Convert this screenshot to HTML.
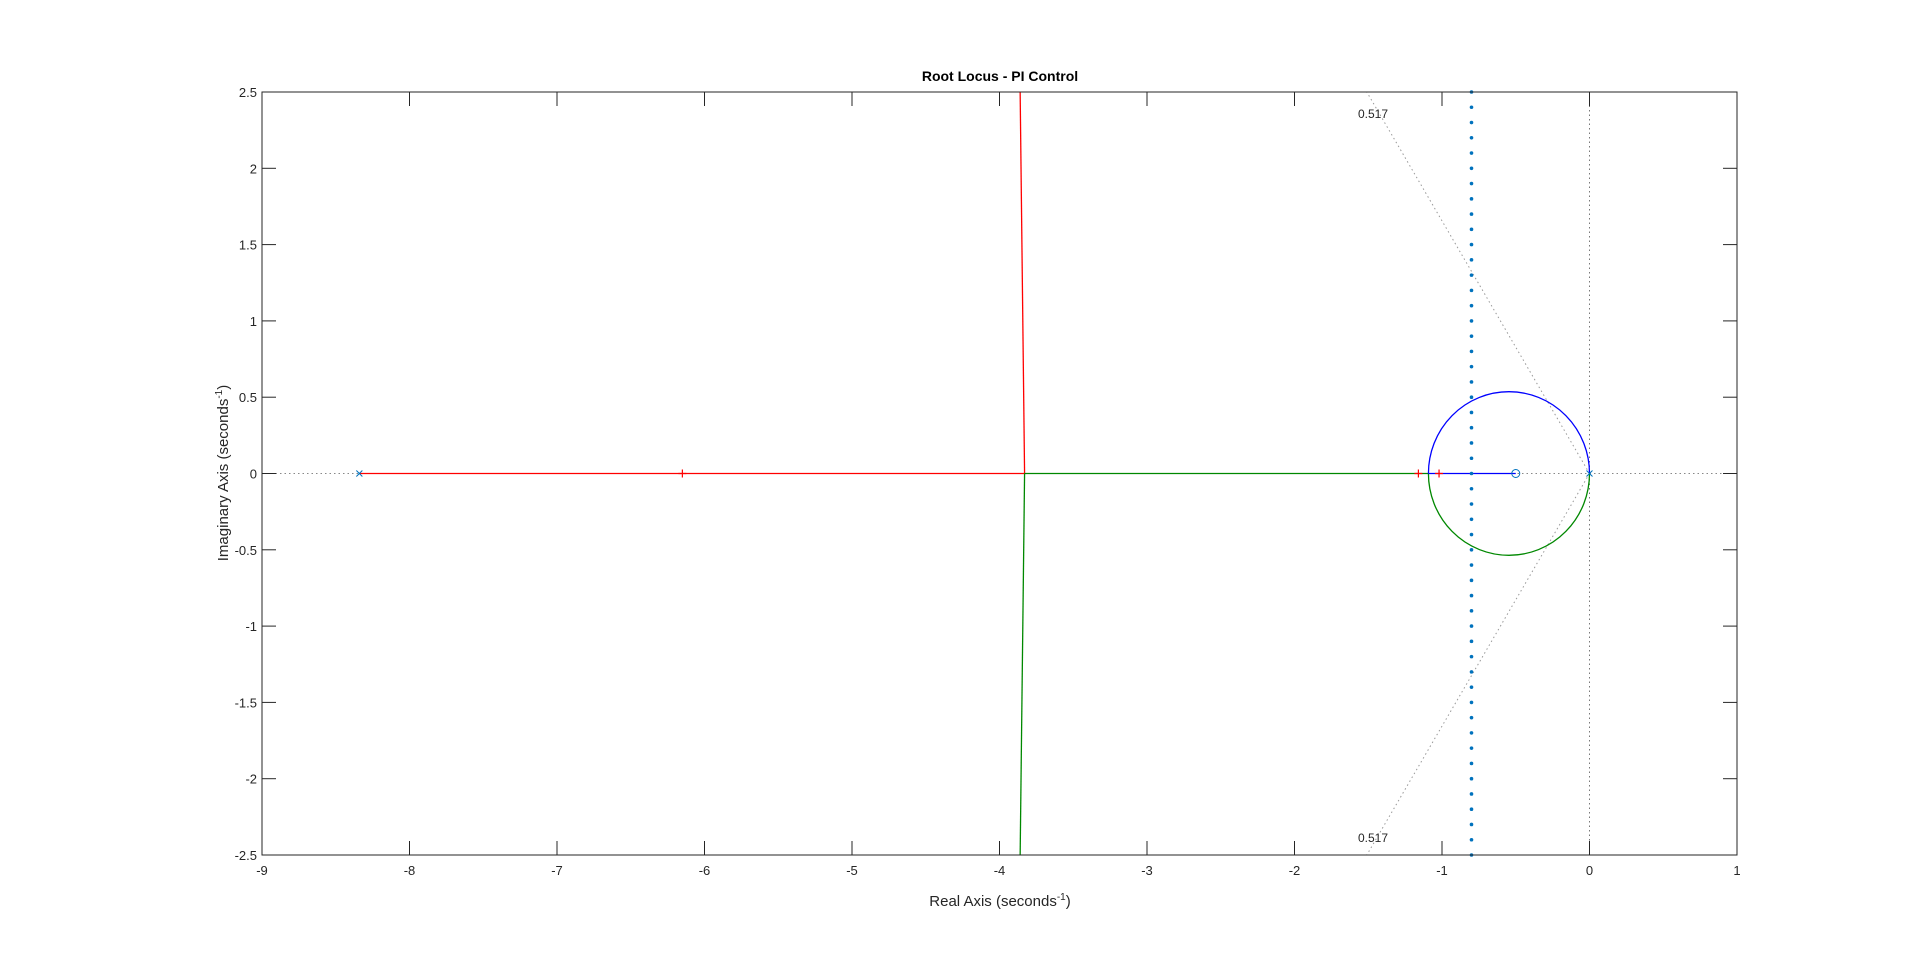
<!DOCTYPE html>
<html><head><meta charset="utf-8"><style>
body{margin:0;background:#fff;}
svg{display:block;font-family:"Liberation Sans",Arial,sans-serif;}
</style></head><body>
<svg id="chart" width="1920" height="962">
<text x="1000" y="81" text-anchor="middle" font-size="14" font-weight="bold" fill="#000">Root Locus - PI Control</text>
<text x="1000" y="906" text-anchor="middle" font-size="15" fill="#262626">Real Axis (seconds<tspan dy="-6" font-size="10">-1</tspan><tspan dy="6">)</tspan></text>
<text transform="translate(228,473) rotate(-90)" text-anchor="middle" font-size="15" fill="#262626">Imaginary Axis (seconds<tspan dy="-6" font-size="10">-1</tspan><tspan dy="6">)</tspan></text>
<g id="g"></g>
</svg>
<script>
const xTicks=[-9,-8,-7,-6,-5,-4,-3,-2,-1,0,1];
const yTicks=[-2.5,-2,-1.5,-1,-0.5,0,0.5,1,1.5,2,2.5];
const poles=[-8.34,0];
const zeros=[-0.5];
const breakaway=[-3.83];
const branchTopEnd=[-3.86,2.5];
const branchBotEnd=[-3.86,-2.5];
const circleCenter=[-0.546];
const circleRadius=[0.546];
const gainMarkers=[-6.15,-1.16,-1.02];
const dampingRatio=[0.517];
const designLineX=[-0.8];
const L=262,R=1737,T=92,B=855;
const sx=v=>L+(v+9)/10*(R-L);
const sy=v=>T+(2.5-v)/5*(B-T);
const g=document.getElementById('g');
const NS='http://www.w3.org/2000/svg';
function mk(t,a,p){const e=document.createElementNS(NS,t);for(const k in a)e.setAttribute(k,a[k]);(p||g).appendChild(e);return e;}
// grid lines (dotted)
let e=mk('line',{x1:sx(-9),x2:sx(1),y1:sy(0),y2:sy(0),stroke:'#888','stroke-dasharray':'1.5 3'});


e=mk('line',{x1:sx(0),x2:sx(0),y1:T,y2:B,stroke:'#777','stroke-dasharray':'1.5 3'});


// damping lines
const z=dampingRatio[0],sl=Math.sqrt(1-z*z)/z,xe=-2.5/sl;
e=mk('line',{x1:sx(0),y1:sy(0),x2:sx(xe),y2:sy(2.5),stroke:'#999','stroke-dasharray':'1.5 3'});


e=mk('line',{x1:sx(0),y1:sy(0),x2:sx(xe),y2:sy(-2.5),stroke:'#999','stroke-dasharray':'1.5 3'});


e=mk('text',{x:1358,y:118,'font-size':12,fill:'#262626'});e.textContent=String(z);


e=mk('text',{x:1358,y:842,'font-size':12,fill:'#262626'});e.textContent=String(z);


// loci
const cx=circleCenter[0],r=circleRadius[0],ry=r*0.982;
e=mk('line',{x1:sx(poles[0]),x2:sx(breakaway[0]),y1:sy(0),y2:sy(0),stroke:'#f00','stroke-width':1.3});


e=mk('line',{x1:sx(breakaway[0]),y1:sy(0),x2:sx(branchTopEnd[0]),y2:sy(branchTopEnd[1]),stroke:'#f00','stroke-width':1.3});


e=mk('line',{x1:sx(breakaway[0]),x2:sx(cx-r),y1:sy(0),y2:sy(0),stroke:'#080','stroke-width':1.3});


e=mk('line',{x1:sx(breakaway[0]),y1:sy(0),x2:sx(branchBotEnd[0]),y2:sy(branchBotEnd[1]),stroke:'#080','stroke-width':1.3});


const rxp=sx(cx+r)-sx(cx),ryp=sy(0)-sy(ry);
e=mk('path',{d:`M${sx(cx-r)},${sy(0)} A${rxp},${ryp} 0 0 1 ${sx(cx+r)},${sy(0)}`,fill:'none',stroke:'#00f','stroke-width':1.3});


e=mk('path',{d:`M${sx(cx-r)},${sy(0)} A${rxp},${ryp} 0 0 0 ${sx(cx+r)},${sy(0)}`,fill:'none',stroke:'#080','stroke-width':1.3});


e=mk('line',{x1:sx(cx-r),x2:sx(zeros[0]),y1:sy(0),y2:sy(0),stroke:'#00f','stroke-width':1.3});


// design line
for(let v=-2.5;v<=2.5001;v+=0.1){
 e=mk('circle',{cx:sx(designLineX[0]),cy:sy(v),r:1.8,fill:'#0072bd'});
 
 
}
// markers
poles.forEach(p=>{const x=sx(p),y=sy(0);
 e=mk('path',{d:`M${x-3},${y-3}L${x+3},${y+3}M${x-3},${y+3}L${x+3},${y-3}`,stroke:'#0072bd','stroke-width':1});
 
 });
zeros.forEach(p=>{
 e=mk('circle',{cx:sx(p),cy:sy(0),r:4,fill:'none',stroke:'#0072bd','stroke-width':1});
 
 });
gainMarkers.forEach(p=>{const x=sx(p),y=sy(0);
 e=mk('path',{d:`M${x-4},${y}L${x+4},${y}M${x},${y-4}L${x},${y+4}`,stroke:'#f00','stroke-width':1.2});
 
 });
// axes box
e=mk('rect',{x:L,y:T,width:R-L,height:B-T,fill:'none',stroke:'#262626','stroke-width':1});


xTicks.forEach(t=>{const x=sx(t);
 mk('line',{x1:x,x2:x,y1:B,y2:B-14,stroke:'#262626'});mk('line',{x1:x,x2:x,y1:T,y2:T+14,stroke:'#262626'});
 e=mk('text',{x:x,y:B+20,'text-anchor':'middle','font-size':13,fill:'#262626'});e.textContent=String(t);
 
 });
yTicks.forEach(t=>{const y=sy(t);
 mk('line',{x1:L,x2:L+14,y1:y,y2:y,stroke:'#262626'});mk('line',{x1:R,x2:R-14,y1:y,y2:y,stroke:'#262626'});
 e=mk('text',{x:L-5,y:y+5,'text-anchor':'end','font-size':13,fill:'#262626'});e.textContent=String(t);
 
 });
</script>
</body></html>
